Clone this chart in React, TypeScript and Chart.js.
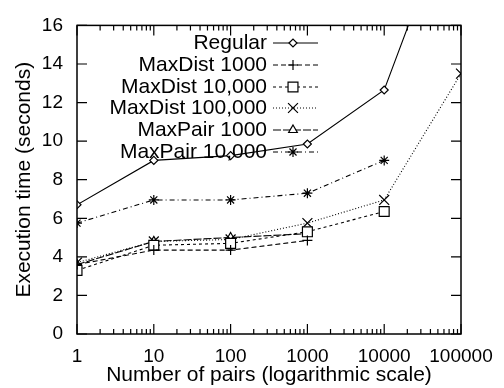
import React, { useEffect, useRef } from "react";
import { Chart, registerables } from "chart.js";
import { drawPoint } from "chart.js/helpers";

Chart.register(...registerables);

const pairs = [1, 10, 100, 1000, 10000, 100000];
const xTicks = [1, 10, 100, 1000, 10000, 100000];
const yTicks = [0, 2, 4, 6, 8, 10, 12, 14, 16];

const regular = [6.7, 9.0, 9.25, 9.85, 12.65, 23.3];
const maxDist1000 = [3.6, 4.35, 4.35, 4.85, null, null];
const maxDist10000 = [3.3, 4.6, 4.7, 5.3, 6.35, null];
const maxDist100000 = [3.7, 4.8, 4.9, 5.75, 6.95, 13.5];
const maxPair1000 = [3.6, 4.8, 5.0, 5.2, null, null];
const maxPair10000 = [5.75, 6.95, 6.95, 7.3, 9.0, null];

const labels = [
  "Regular",
  "MaxDist 1000",
  "MaxDist 10,000",
  "MaxDist 100,000",
  "MaxPair 1000",
  "MaxPair 10,000",
];

const FONT = "'Liberation Sans', Arial, Helvetica, sans-serif";

const styles = [
  { pointStyle: "rectRot", radius: 4, dash: [] as number[] },
  { pointStyle: "cross", radius: 5, dash: [5, 3] },
  { pointStyle: "rect", radius: 7, dash: [3, 3] },
  { pointStyle: "crossRot", radius: 7, dash: [1, 2] },
  { pointStyle: "triangle", radius: 5, dash: [8, 2] },
  { pointStyle: "star", radius: 5, dash: [5, 3, 1, 3] },
];

const series = [regular, maxDist1000, maxDist10000, maxDist100000, maxPair1000, maxPair10000];

const framePlugin = {
  id: "frame",
  afterDatasetsDraw(chart: any) {
    const { ctx, chartArea } = chart;
    const { left, right, top, bottom } = chartArea;
    const xs = chart.scales.x;
    const ys = chart.scales.y;
    ctx.save();
    ctx.strokeStyle = "#000";
    ctx.lineWidth = 1.5;
    ctx.setLineDash([]);
    ctx.strokeRect(left, top, right - left, bottom - top);
    ctx.lineWidth = 1.2;
    ctx.beginPath();
    for (let d = 1; d <= 100000; d *= 10) {
      for (let m = 1; m <= 9; m++) {
        const v = d * m;
        if (v > 100000) break;
        const px = xs.getPixelForValue(v);
        const len = m === 1 ? 10 : 5;
        ctx.moveTo(px, bottom);
        ctx.lineTo(px, bottom - len);
        ctx.moveTo(px, top);
        ctx.lineTo(px, top + len);
      }
    }
    for (const v of yTicks) {
      const py = ys.getPixelForValue(v);
      ctx.moveTo(left, py);
      ctx.lineTo(left + 10, py);
      ctx.moveTo(right, py);
      ctx.lineTo(right - 10, py);
    }
    ctx.stroke();

    ctx.font = `21px ${FONT}`;
    ctx.fillStyle = "#000";
    ctx.textAlign = "right";
    ctx.textBaseline = "middle";
    const textRight = 267;
    const lineStart = 273;
    const lineEnd = 318;
    const markerX = 293;
    const rowY = [43, 65, 87, 108, 130, 152];
    labels.forEach((lab, i) => {
      const y = rowY[i];
      ctx.fillText(lab, textRight, y);
      const st = styles[i];
      ctx.save();
      ctx.lineWidth = 1;
      ctx.strokeStyle = "#000";
      ctx.setLineDash(st.dash);
      ctx.beginPath();
      ctx.moveTo(lineStart, y);
      ctx.lineTo(lineEnd, y);
      ctx.stroke();
      ctx.setLineDash([]);
      ctx.fillStyle = "#fff";
      ctx.lineWidth = 1.2;
      drawPoint(ctx, { pointStyle: st.pointStyle, radius: st.radius, rotation: 0, borderWidth: 1.2 } as any, markerX, y);
      ctx.restore();
    });
    ctx.restore();
  },
};

export default function App() {
  const ref = useRef<HTMLCanvasElement | null>(null);
  useEffect(() => {
    if (!ref.current) return;
    const chart = new Chart(ref.current, {
      type: "line",
      data: {
        labels: pairs,
        datasets: series.map((vals, i) => ({
          label: labels[i],
          data: vals.map((v, j) => ({ x: pairs[j], y: v })) as any,
          borderColor: "#000",
          backgroundColor: "#fff",
          borderWidth: 1.1,
          borderDash: styles[i].dash,
          pointStyle: styles[i].pointStyle as any,
          pointRadius: styles[i].radius,
          pointBorderWidth: 1.2,
          pointBorderColor: "#000",
          pointBackgroundColor: "#fff",
          fill: false,
          tension: 0,
          spanGaps: false,
        })),
      },
      options: {
        animation: false,
        responsive: false,
        maintainAspectRatio: false,
        layout: { padding: { top: 14, right: 43, left: 0, bottom: 0 } },
        plugins: {
          legend: { display: false },
          tooltip: { enabled: false },
        },
        scales: {
          x: {
            type: "logarithmic",
            min: 1,
            max: 100000,
            offset: false,
            grid: { display: false, drawTicks: false },
            border: { display: false },
            afterBuildTicks: (scale: any) => {
              scale.ticks = xTicks.map((v) => ({ value: v }));
            },
            afterFit: (scale: any) => {
              scale.height = 54;
            },
            ticks: {
              autoSkip: false,
              maxRotation: 0,
              padding: 11,
              color: "#000",
              font: { family: FONT, size: 19 },
              callback: (v: any) => String(v),
            },
            title: {
              display: true,
              text: "Number of pairs (logarithmic scale)",
              color: "#000",
              font: { family: FONT, size: 21 },
              padding: { top: 0, bottom: 0 },
            },
          },
          y: {
            type: "linear",
            min: 0,
            max: 16,
            grid: { display: false, drawTicks: false },
            border: { display: false },
            afterBuildTicks: (scale: any) => {
              scale.ticks = yTicks.map((v) => ({ value: v }));
            },
            afterFit: (scale: any) => {
              scale.width = 77;
            },
            ticks: {
              padding: 14,
              color: "#000",
              font: { family: FONT, size: 19 },
            },
            title: {
              display: true,
              text: "Execution time (seconds)",
              color: "#000",
              font: { family: FONT, size: 21 },
              padding: { top: 12, bottom: 0 },
            },
          },
        },
      },
      plugins: [framePlugin],
    });
    return () => chart.destroy();
  }, []);
  return (
    <div style={{ position: "fixed", left: 0, top: 0, width: 504, height: 388, background: "#fff" }}>
      <canvas ref={ref} width={504} height={388} style={{ display: "block" }} />
    </div>
  );
}
